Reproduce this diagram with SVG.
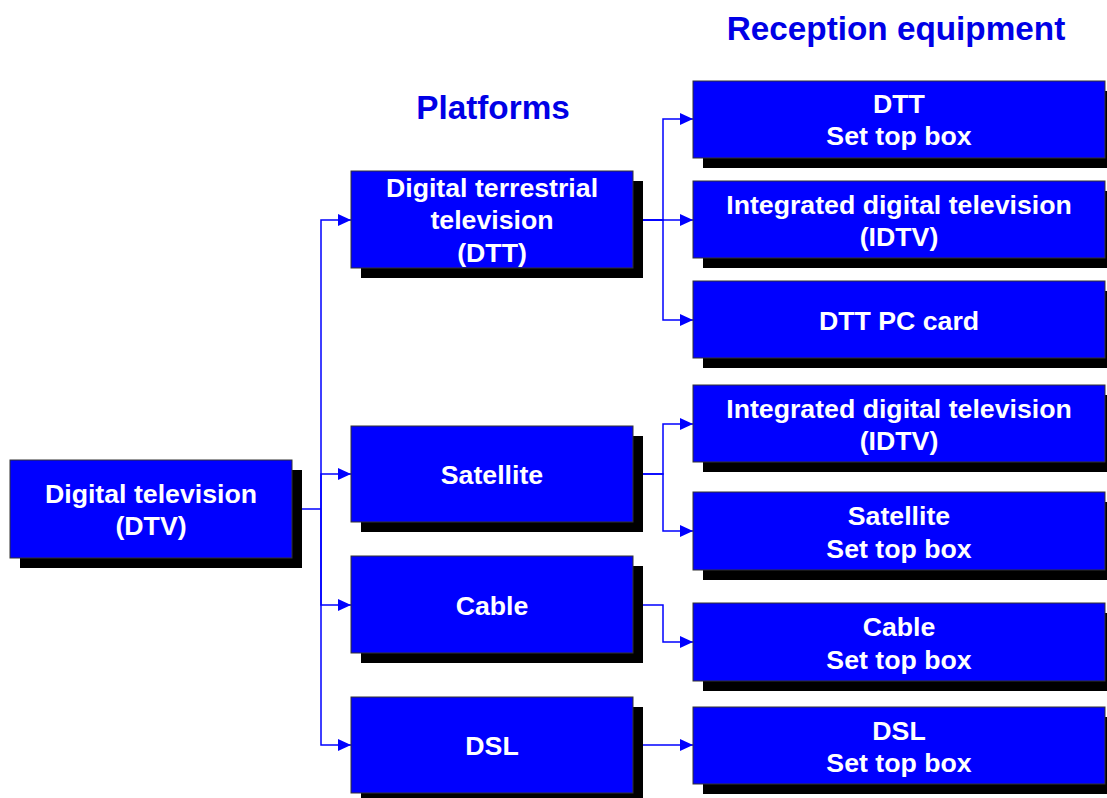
<svg xmlns="http://www.w3.org/2000/svg" width="1107" height="798" viewBox="0 0 1107 798">
<style>
.box{fill:#0000FF;stroke:#333;stroke-width:1}
.sh{fill:#000}
.t{font-family:"Liberation Sans",Arial,sans-serif;font-weight:bold;font-size:26.7px;fill:#fff;text-anchor:middle}
.title{font-family:"Liberation Sans",Arial,sans-serif;font-weight:bold;font-size:33.3px;fill:#0000E6;text-anchor:middle}
.c{fill:none;stroke:#0000FF;stroke-width:1.5}
</style>
<defs>
<marker id="ah" markerUnits="userSpaceOnUse" markerWidth="14" markerHeight="14" refX="13" refY="6" orient="auto">
<path d="M0,0 L13,6 L0,12 Z" fill="#0000FF"/>
</marker>
</defs>
<rect width="1107" height="798" fill="#fff"/>
<text class="title" x="896" y="40">Reception equipment</text>
<text class="title" x="493" y="119">Platforms</text>

<g id="connectors">
<path class="c" d="M292,509 H321"/>
<path class="c" d="M321,509 V220 H351" marker-end="url(#ah)"/>
<path class="c" d="M321,509 V474 H351" marker-end="url(#ah)"/>
<path class="c" d="M321,509 V605 H351" marker-end="url(#ah)"/>
<path class="c" d="M321,509 V745 H351" marker-end="url(#ah)"/>
<path class="c" d="M633,220 H663 V119 H693" marker-end="url(#ah)"/>
<path class="c" d="M633,220 H693" marker-end="url(#ah)"/>
<path class="c" d="M633,220 H663 V320 H693" marker-end="url(#ah)"/>
<path class="c" d="M633,474 H663 V424 H693" marker-end="url(#ah)"/>
<path class="c" d="M633,474 H663 V531 H693" marker-end="url(#ah)"/>
<path class="c" d="M633,605 H663 V642 H693" marker-end="url(#ah)"/>
<path class="c" d="M633,745 H693" marker-end="url(#ah)"/>
</g>

<g id="dtv">
<rect class="sh" x="20" y="470" width="282" height="98"/>
<rect class="box" x="10" y="460" width="282" height="98"/>
<text class="t" x="151" y="503">Digital television</text>
<text class="t" x="151" y="535">(DTV)</text>
</g>

<g id="p-dtt">
<rect class="sh" x="361" y="181" width="282" height="97"/>
<rect class="box" x="351" y="171" width="282" height="97"/>
<text class="t" x="492" y="197">Digital terrestrial</text>
<text class="t" x="492" y="229">television</text>
<text class="t" x="492" y="262">(DTT)</text>
</g>
<g id="p-sat">
<rect class="sh" x="361" y="436" width="282" height="96"/>
<rect class="box" x="351" y="426" width="282" height="96"/>
<text class="t" x="492" y="484">Satellite</text>
</g>
<g id="p-cable">
<rect class="sh" x="361" y="566" width="282" height="97"/>
<rect class="box" x="351" y="556" width="282" height="97"/>
<text class="t" x="492" y="615">Cable</text>
</g>
<g id="p-dsl">
<rect class="sh" x="361" y="707" width="282" height="96"/>
<rect class="box" x="351" y="697" width="282" height="96"/>
<text class="t" x="492" y="755">DSL</text>
</g>

<g id="r-dtt-stb">
<rect class="sh" x="703" y="91" width="412" height="77"/>
<rect class="box" x="693" y="81" width="412" height="77"/>
<text class="t" x="899" y="113">DTT</text>
<text class="t" x="899" y="145">Set top box</text>
</g>
<g id="r-idtv1">
<rect class="sh" x="703" y="191" width="412" height="77"/>
<rect class="box" x="693" y="181" width="412" height="77"/>
<text class="t" x="899" y="214">Integrated digital television</text>
<text class="t" x="899" y="246">(IDTV)</text>
</g>
<g id="r-pccard">
<rect class="sh" x="703" y="291" width="412" height="77"/>
<rect class="box" x="693" y="281" width="412" height="77"/>
<text class="t" x="899" y="330">DTT PC card</text>
</g>
<g id="r-idtv2">
<rect class="sh" x="703" y="395" width="412" height="77"/>
<rect class="box" x="693" y="385" width="412" height="77"/>
<text class="t" x="899" y="418">Integrated digital television</text>
<text class="t" x="899" y="450">(IDTV)</text>
</g>
<g id="r-sat-stb">
<rect class="sh" x="703" y="502" width="412" height="78"/>
<rect class="box" x="693" y="492" width="412" height="78"/>
<text class="t" x="899" y="525">Satellite</text>
<text class="t" x="899" y="558">Set top box</text>
</g>
<g id="r-cable-stb">
<rect class="sh" x="703" y="613" width="412" height="78"/>
<rect class="box" x="693" y="603" width="412" height="78"/>
<text class="t" x="899" y="636">Cable</text>
<text class="t" x="899" y="669">Set top box</text>
</g>
<g id="r-dsl-stb">
<rect class="sh" x="703" y="717" width="412" height="77"/>
<rect class="box" x="693" y="707" width="412" height="77"/>
<text class="t" x="899" y="740">DSL</text>
<text class="t" x="899" y="772">Set top box</text>
</g>
</svg>
